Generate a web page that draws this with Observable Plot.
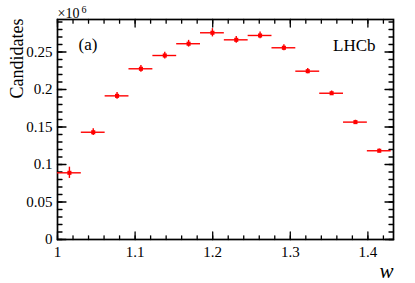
<!DOCTYPE html>
<html>
<head>
<meta charset="utf-8">
<script src="https://cdn.jsdelivr.net/npm/d3@7"></script>
<script src="https://cdn.jsdelivr.net/npm/@observablehq/plot@0.6"></script>
<style>
  html, body { margin: 0; padding: 0; background: white; }
</style>
</head>
<body>
<div id="chart"></div>
<script>
// Bin edges in w
const binEdges = [1.0, 1.0307, 1.0614, 1.0921, 1.1229, 1.1536, 1.1843, 1.2150, 1.2457, 1.2764, 1.3071, 1.3379, 1.3686, 1.3993, 1.4300];
// Candidates (x10^6) per bin
const values = [0.0889, 0.1430, 0.1915, 0.2276, 0.2453, 0.2610, 0.2756, 0.2662, 0.2720, 0.2556, 0.2244, 0.1950, 0.1565, 0.1183];
// Vertical uncertainties (x10^6)
const errors = [0.0075, 0.0045, 0.0045, 0.0045, 0.0045, 0.0045, 0.0055, 0.0045, 0.0045, 0.0040, 0.0035, 0.0030, 0.0025, 0.0025];

const yTickLabels = [0, 0.05, 0.1, 0.15, 0.2, 0.25];
const xTickLabels = [1, 1.1, 1.2, 1.3, 1.4];

const data = values.map((v, i) => ({
  lo: binEdges[i], hi: binEdges[i + 1], c: (binEdges[i] + binEdges[i + 1]) / 2, v, e: errors[i]
}));

const yMinor = d3.range(0, 30).map(i => +(i * 0.01).toFixed(2));
const xMinor = d3.range(0, 22).map(i => +(1 + i * 0.02).toFixed(2));

const red = "#ff0000";
const serif = "Liberation Serif";
const line = { draw(context, l) { context.moveTo(0, 0); context.lineTo(0, -l); } };
const tk = { shape: line, anchor: "start", stroke: "black", strokeWidth: 1.3 };

const chart = Plot.plot({
  width: 415,
  height: 283,
  marginLeft: 57,
  marginRight: 22,
  marginTop: 19,
  marginBottom: 44,
  x: { domain: [1, 1.433], axis: null },
  y: { domain: [0, 0.2933], axis: null },
  style: { fontFamily: serif, background: "white", color: "black" },
  marks: [
    // inward ticks on all four sides
    Plot.vector(yMinor, { y: d => d, frameAnchor: "left", rotate: 90, length: 4.5, ...tk }),
    Plot.vector(yTickLabels, { y: d => d, frameAnchor: "left", rotate: 90, length: 8.5, ...tk }),
    Plot.vector(yMinor, { y: d => d, frameAnchor: "right", rotate: -90, length: 4.5, ...tk }),
    Plot.vector(yTickLabels, { y: d => d, frameAnchor: "right", rotate: -90, length: 8.5, ...tk }),
    Plot.vector(xMinor, { x: d => d, frameAnchor: "bottom", rotate: 0, length: 3.7, ...tk }),
    Plot.vector(xTickLabels, { x: d => d, frameAnchor: "bottom", rotate: 0, length: 7.5, ...tk }),
    Plot.vector(xMinor, { x: d => d, frameAnchor: "top", rotate: 180, length: 3.7, ...tk }),
    Plot.vector(xTickLabels, { x: d => d, frameAnchor: "top", rotate: 180, length: 7.5, ...tk }),
    // tick labels
    Plot.text(yTickLabels, { y: d => d, text: d => String(d), frameAnchor: "left", textAnchor: "end", dx: -5, fontSize: 15, fontFamily: serif, fill: "black" }),
    Plot.text(xTickLabels, { x: d => d, text: d => String(d), frameAnchor: "bottom", lineAnchor: "top", dy: 7, fontSize: 15, fontFamily: serif, fill: "black" }),
    Plot.frame({ stroke: "black", strokeWidth: 1.7 }),
    // error bars and markers
    Plot.ruleY(data, { y: "v", x1: "lo", x2: "hi", stroke: red, strokeWidth: 1.4 }),
    Plot.ruleX(data, { x: "c", y1: d => d.v - d.e, y2: d => d.v + d.e, stroke: red, strokeWidth: 1.4 }),
    Plot.dot(data, { x: "c", y: "v", symbol: "square", r: 2.3, fill: red, stroke: "none" }),
    // texts
    Plot.text(["Candidates"], { frameAnchor: "top-left", rotate: -90, textAnchor: "end", dx: -47, dy: -1, fontSize: 18, fontFamily: serif, fill: "black" }),
    Plot.text(["w"], { frameAnchor: "bottom-right", textAnchor: "end", lineAnchor: "bottom", dx: 0, dy: 38, fontSize: 21, fontStyle: "italic", fontFamily: serif, fill: "black" }),
    Plot.text(["LHCb"], { frameAnchor: "top-right", textAnchor: "end", lineAnchor: "bottom", dx: -18, dy: 31, fontSize: 17, fontFamily: serif, fill: "black" }),
    Plot.text(["(a)"], { frameAnchor: "top-left", textAnchor: "start", lineAnchor: "bottom", dx: 21, dy: 30, fontSize: 17, fontFamily: serif, fill: "black" }),
    Plot.text(["×10"], { frameAnchor: "top-left", textAnchor: "start", lineAnchor: "bottom", dx: 0, dy: -2, fontSize: 14, fontFamily: serif, fill: "black" }),
    Plot.text(["6"], { frameAnchor: "top-left", textAnchor: "start", lineAnchor: "bottom", dx: 24, dy: -7, fontSize: 10, fontFamily: serif, fill: "black" })
  ]
});

document.getElementById("chart").appendChild(chart);
</script>
</body>
</html>
